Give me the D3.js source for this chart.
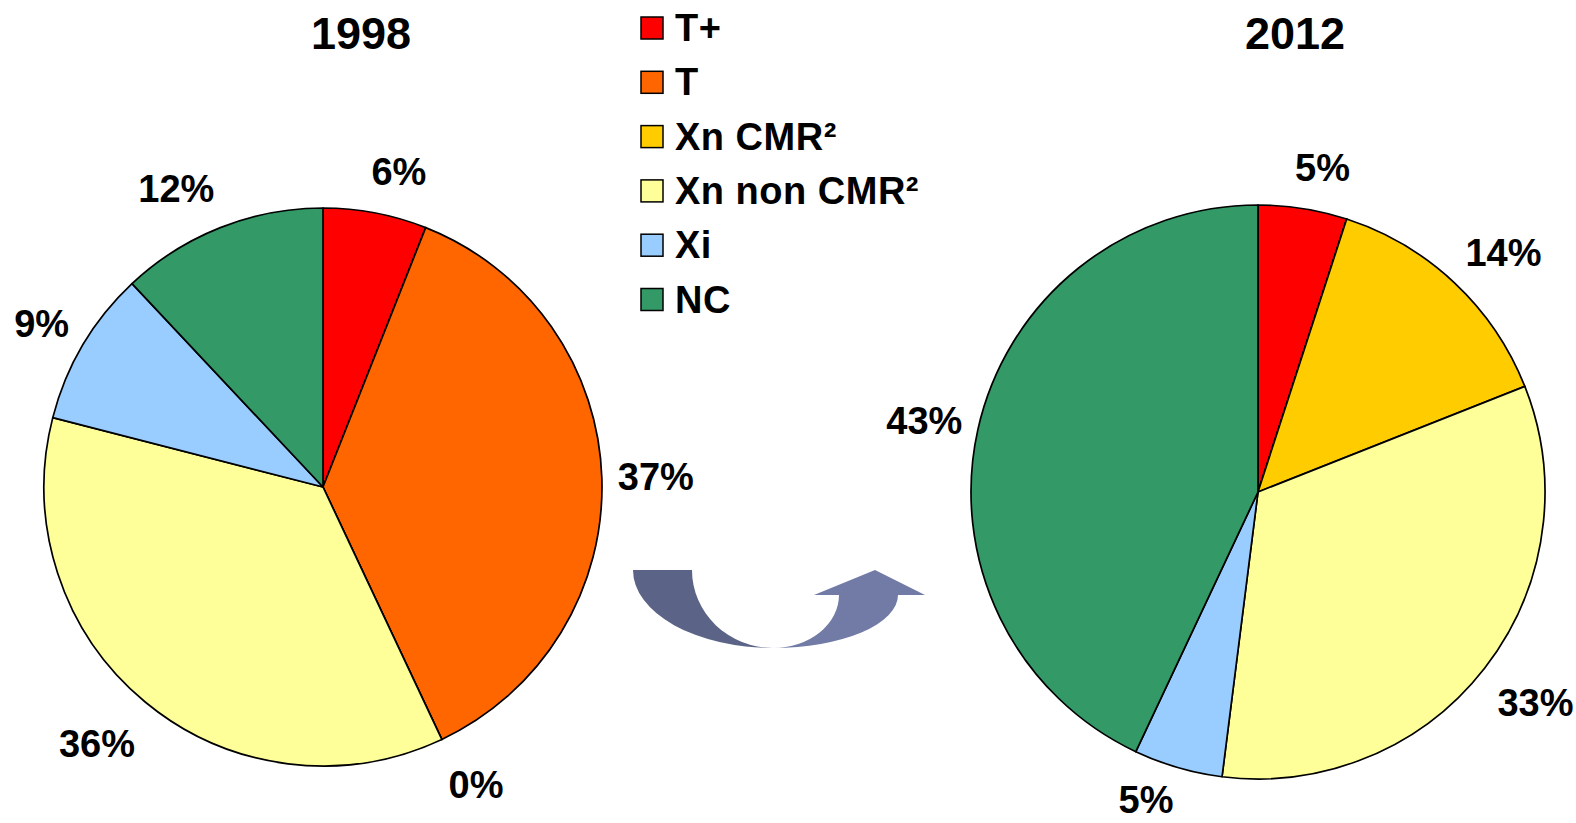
<!DOCTYPE html>
<html>
<head>
<meta charset="utf-8">
<script src="https://cdn.jsdelivr.net/npm/d3@7"></script>
<style>
  html, body { margin: 0; padding: 0; background: #fff; }
  svg { display: block; font-family: "Liberation Sans", Arial, sans-serif; font-weight: bold; }
</style>
</head>
<body>
<svg id="chart" width="1576" height="823"></svg>
<script>
// Hazard classes, in slice order (clockwise from 12 o'clock)
const categories = ["T+", "T", "Xn CMR²", "Xn non CMR²", "Xi", "NC"];
const colors = ["#ff0000", "#ff6600", "#ffcc00", "#ffff99", "#99ccff", "#339966"];

// Share of each class (%), null = class absent that year
const years = ["1998", "2012"];
const values1998 = [6, 37, 0, 36, 9, 12];
const values2012 = [5, null, 14, 33, 5, 43];

const W = 1576, H = 823;
const svg = d3.select("#chart");

const pieLayout = d3.pie().sort(null).value(d => d == null ? 0 : d);

const charts = [
  { title: years[0], values: values1998, cx: 323, cy: 487, r: 279, titleX: 361 },
  { title: years[1], values: values2012, cx: 1258, cy: 492, r: 287, titleX: 1295 }
];

charts.forEach(c => {
  const g = svg.append("g").attr("transform", `translate(${c.cx},${c.cy})`);
  const arcs = pieLayout(c.values);
  const arc = d3.arc().innerRadius(0).outerRadius(c.r);

  g.selectAll("path.slice")
    .data(arcs)
    .join("path")
    .attr("class", "slice")
    .attr("d", arc)
    .attr("fill", (d, i) => colors[i])
    .attr("stroke", "#000")
    .attr("stroke-width", 1.7)
    .attr("stroke-linejoin", "round");

  // Percentage labels placed just outside the rim, pushed out by their own box
  const capH = 27;
  arcs.forEach(d => {
    if (d.data == null) return;
    const mid = (d.startAngle + d.endAngle) / 2;
    const s = Math.sin(mid), k = -Math.cos(mid);
    const t = g.append("text")
      .attr("font-size", 38)
      .attr("text-anchor", "middle")
      .attr("fill", "#000")
      .text(d3.format(".0f")(d.data) + "%");
    const w = t.node().getComputedTextLength();
    const rr = c.r + 16;
    const x = rr * s + Math.sign(s) * Math.min(1, Math.abs(s) * 4) * w / 2;
    const y = rr * k + k * 26 + Math.max(0, k) * Math.abs(s) * 18;
    // keep the glyphs inside the drawing area
    const baseline = Math.min(y + capH / 2, H - 10 - c.cy);
    t.attr("x", x).attr("y", baseline);
  });

  svg.append("text")
    .attr("x", c.titleX)
    .attr("y", 49)
    .attr("text-anchor", "middle")
    .attr("font-size", 45)
    .text(c.title);
});

// Legend
const legend = svg.append("g").attr("transform", "translate(641,28)");
const rowGap = 54.3;
categories.forEach((name, i) => {
  const row = legend.append("g").attr("transform", `translate(0,${i * rowGap})`);
  row.append("rect")
    .attr("x", 0).attr("y", -11)
    .attr("width", 22).attr("height", 22)
    .attr("fill", colors[i])
    .attr("stroke", "#000")
    .attr("stroke-width", 1.5);
  row.append("text")
    .attr("x", 34)
    .attr("y", 13)
    .attr("font-size", 38)
    .attr("letter-spacing", 0.5)
    .text(name);
});

// Curved arrow between the two pies
const arrow = svg.append("g");
const ax = 773;
// left (descending) half: crescent between two ellipses
arrow.append("path")
  .attr("d", `M633,570 L692,570 A81,78 0 0 0 ${ax},648 A140,78 0 0 1 633,570 Z`)
  .attr("fill", "#5b6486");
// right (rising) half with arrowhead
arrow.append("path")
  .attr("d", `M${ax},648 A66,53 0 0 0 839,595 L814,595 L875,570 L925,595 L898,595 A125,53 0 0 1 ${ax},648 Z`)
  .attr("fill", "#717ba5");
</script>
</body>
</html>
